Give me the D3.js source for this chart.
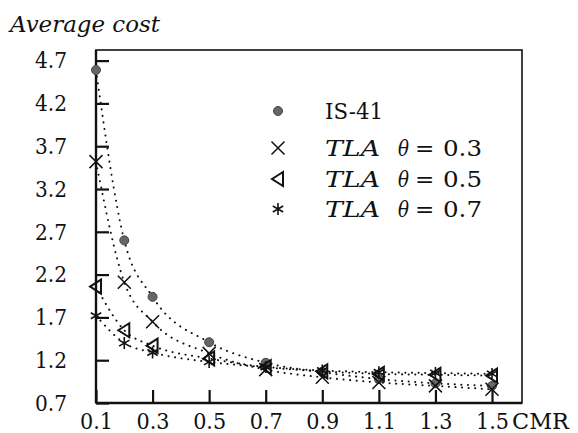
<!DOCTYPE html>
<html>
<head>
<meta charset="utf-8">
<script src="https://cdn.jsdelivr.net/npm/d3@7"></script>
<style>
  body { margin: 0; background: #fff; }
  svg text { font-family: "DejaVu Serif", "Liberation Serif", "Times New Roman", "Noto Serif", serif; fill: #111; }
</style>
</head>
<body>
<svg id="chart" width="578" height="433"></svg>
<script>
const cmr = [0.1, 0.2, 0.3, 0.5, 0.7, 0.9, 1.1, 1.3, 1.5];
const is41 = [4.59, 2.60, 1.94, 1.41, 1.17, 1.06, 0.98, 0.93, 0.90];
const tla03 = [3.52, 2.11, 1.65, 1.28, 1.09, 1.00, 0.94, 0.90, 0.86];
const tla05 = [2.06, 1.55, 1.37, 1.22, 1.12, 1.07, 1.04, 1.03, 1.02];
const tla07 = [1.72, 1.40, 1.29, 1.18, 1.12, 1.08, 1.06, 1.05, 1.04];
const xTicks = [0.1, 0.3, 0.5, 0.7, 0.9, 1.1, 1.3, 1.5];
const yTicks = [0.7, 1.2, 1.7, 2.2, 2.7, 3.2, 3.7, 4.2, 4.7];

const series = [
  { name: 'IS-41', theta: null, values: is41, marker: 'circle' },
  { name: 'TLA', theta: '0.3', values: tla03, marker: 'cross' },
  { name: 'TLA', theta: '0.5', values: tla05, marker: 'triangle' },
  { name: 'TLA', theta: '0.7', values: tla07, marker: 'star' }
];

const svg = d3.select('#chart');
const mLeft = 96, mRight = 522, mTop = 50, mBottom = 403;

const x = d3.scaleLinear().domain([0.1, 1.606]).range([mLeft, mRight]);
const y = d3.scaleLinear().domain([0.7, 4.824]).range([mBottom, mTop]);

// frame
svg.append('rect')
  .attr('x', mLeft).attr('y', mTop)
  .attr('width', mRight - mLeft).attr('height', mBottom - mTop)
  .attr('fill', 'none').attr('stroke', '#111').attr('stroke-width', 1.6);
svg.append('line').attr('x1', mLeft).attr('x2', mLeft).attr('y1', mTop).attr('y2', mBottom)
  .attr('stroke', '#111').attr('stroke-width', 2.4);
svg.append('line').attr('x1', mLeft).attr('x2', mRight).attr('y1', mBottom).attr('y2', mBottom)
  .attr('stroke', '#111').attr('stroke-width', 2.4);

// axes with inward ticks
const yAxis = d3.axisLeft(y).tickValues(yTicks).tickSize(-13).tickPadding(29)
  .tickFormat(d3.format('.1f'));
const gy = svg.append('g').attr('transform', `translate(${mLeft},0)`).call(yAxis);
gy.attr('font-family', null);
gy.select('.domain').remove();
gy.selectAll('.tick line').attr('stroke', '#111').attr('stroke-width', 2.2);
gy.selectAll('.tick text').attr('font-size', 23).attr('fill', '#111')
  .attr('textLength', 32).attr('lengthAdjust', 'spacingAndGlyphs');

const xAxis = d3.axisBottom(x).tickValues(xTicks).tickSize(-13).tickPadding(10)
  .tickFormat(d3.format('.1f'));
const gx = svg.append('g').attr('transform', `translate(0,${mBottom})`).call(xAxis);
gx.attr('font-family', null);
gx.select('.domain').remove();
gx.selectAll('.tick line').attr('stroke', '#111').attr('stroke-width', 2.2);
gx.selectAll('.tick text').attr('font-size', 23).attr('fill', '#111')
  .attr('textLength', 33).attr('lengthAdjust', 'spacingAndGlyphs');

svg.append('text').attr('x', 512).attr('y', 429).attr('font-size', 22)
  .attr('textLength', 57).attr('lengthAdjust', 'spacingAndGlyphs').text('CMR');
svg.append('text').attr('x', 10).attr('y', 32).attr('font-size', 23)
  .attr('font-style', 'italic').attr('textLength', 150).attr('lengthAdjust', 'spacingAndGlyphs')
  .text('Average cost');

// dotted curves
const line = d3.line().x(d => x(d[0])).y(d => y(d[1])).curve(d3.curveMonotoneX);
series.forEach(s => {
  svg.append('path')
    .attr('d', line(cmr.map((c, i) => [c, s.values[i]])))
    .attr('fill', 'none').attr('stroke', '#111').attr('stroke-width', 2)
    .attr('stroke-linecap', 'round')
    .attr('stroke-dasharray', '0.1 6.5');
});

function drawMarker(g, type, cx, cy) {
  if (type === 'circle') {
    g.append('circle').attr('cx', cx).attr('cy', cy).attr('r', 4.5)
      .attr('fill', '#666').attr('stroke', '#444').attr('stroke-width', 1);
  } else if (type === 'cross') {
    const r = 6.5;
    g.append('path')
      .attr('d', `M${cx - r},${cy - r}L${cx + r},${cy + r}M${cx - r},${cy + r}L${cx + r},${cy - r}`)
      .attr('stroke', '#111').attr('stroke-width', 1.5).attr('fill', 'none');
  } else if (type === 'triangle') {
    g.append('path')
      .attr('d', `M${cx - 6},${cy}L${cx + 5},${cy - 7}L${cx + 5},${cy + 7}Z`)
      .attr('stroke', '#111').attr('stroke-width', 2).attr('fill', 'none');
  } else if (type === 'star') {
    const r = 6;
    let d = '';
    for (let k = 0; k < 3; k++) {
      const a = Math.PI / 2 + k * Math.PI / 3;
      d += `M${cx + r * Math.cos(a)},${cy + r * Math.sin(a)}L${cx - r * Math.cos(a)},${cy - r * Math.sin(a)}`;
    }
    g.append('path').attr('d', d).attr('stroke', '#111').attr('stroke-width', 1.6).attr('fill', 'none');
  }
}

const marks = svg.append('g');
series.forEach(s => {
  cmr.forEach((c, i) => drawMarker(marks, s.marker, x(c), y(s.values[i])));
});

// legend
const legendY = [111, 148, 179, 209];
const leg = svg.append('g');
series.forEach((s, i) => {
  drawMarker(leg, s.marker, 278, legendY[i]);
  const by = legendY[i] + 8;
  if (s.theta === null) {
    leg.append('text').attr('x', 325).attr('y', by).attr('font-size', 23)
      .attr('textLength', 58).attr('lengthAdjust', 'spacingAndGlyphs').text(s.name);
  } else {
    leg.append('text').attr('x', 325).attr('y', by).attr('font-size', 23)
      .attr('font-style', 'italic').attr('textLength', 55).attr('lengthAdjust', 'spacingAndGlyphs')
      .text(s.name);
    leg.append('text').attr('x', 398).attr('y', by).attr('font-size', 23)
      .attr('font-style', 'italic').attr('textLength', 11).attr('lengthAdjust', 'spacingAndGlyphs')
      .text('θ');
    leg.append('text').attr('x', 415).attr('y', by).attr('font-size', 23).text('=');
    leg.append('text').attr('x', 443).attr('y', by).attr('font-size', 23)
      .attr('textLength', 39).attr('lengthAdjust', 'spacingAndGlyphs').text(s.theta);
  }
});
</script>
</body>
</html>
